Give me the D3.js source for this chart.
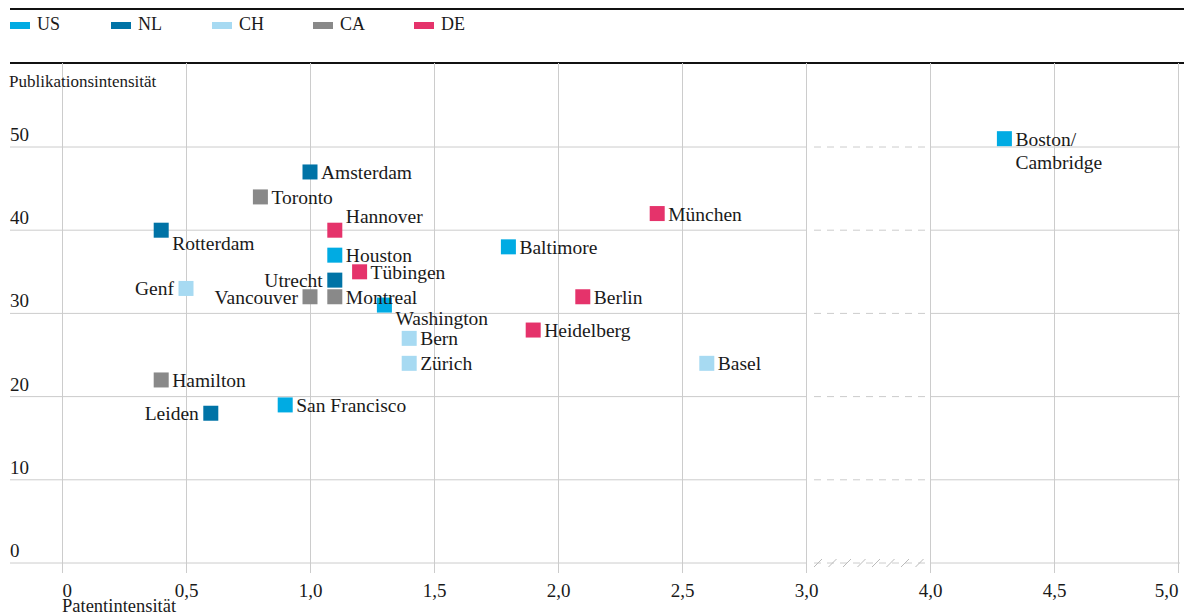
<!DOCTYPE html>
<meta charset="utf-8">
<script src="https://d3js.org/d3.v7.min.js"></script>
<style>
  body { margin: 0; background: #fff; }
  text { font-family: "Liberation Serif", "Times New Roman", serif; fill: #1a1a1a; }
</style>
<div id="my_dataviz"></div>
<script>

// data
const countries = ["US", "NL", "CH", "CA", "DE"];
const countryColors = ["#00abe3", "#0073a6", "#a7daf2", "#898989", "#e5336b"];

const cities = ["Boston/Cambridge", "Amsterdam", "Toronto", "Rotterdam", "Hannover", "Houston",
  "Utrecht", "Tübingen", "Genf", "Vancouver", "Montreal", "Washington", "Bern", "Zürich",
  "Hamilton", "Leiden", "San Francisco", "Baltimore", "München", "Berlin", "Heidelberg", "Basel"];
const cityCountry = ["US", "NL", "CA", "NL", "DE", "US",
  "NL", "DE", "CH", "CA", "CA", "US", "CH", "CH",
  "CA", "NL", "US", "US", "DE", "DE", "DE", "CH"];
const patentIntensity = [4.3, 1.0, 0.8, 0.4, 1.1, 1.1,
  1.1, 1.2, 0.5, 1.0, 1.1, 1.3, 1.4, 1.4,
  0.4, 0.6, 0.9, 1.8, 2.4, 2.1, 1.9, 2.6];
const publicationIntensity = [51, 47, 44, 40, 40, 37,
  34, 35, 33, 32, 32, 31, 27, 24,
  22, 18, 19, 38, 42, 32, 28, 24];

const xTicks = [0, 0.5, 1.0, 1.5, 2.0, 2.5, 3.0, 4.0, 4.5, 5.0];
const yTicks = [0, 10, 20, 30, 40, 50];

// where the label sits relative to its marker
const labelSide = {
  "Rotterdam": "below", "Washington": "below", "Hannover": "above",
  "Utrecht": "left", "Genf": "left", "Vancouver": "left", "Leiden": "left"
};

const W = 1184, H = 616;
const svg = d3.select("#my_dataviz")
  .append("svg")
  .attr("width", W)
  .attr("height", H);

// broken x axis: 3 -> 4 squeezed into half a unit
const x = d3.scaleLinear()
  .domain([0, 3, 4, 5])
  .range([62, 806, 930, 1178]);
const y = d3.scaleLinear()
  .domain([0, 50])
  .range([563, 147]);
const color = d3.scaleOrdinal().domain(countries).range(countryColors);

const fmt = (v) => v === 0 ? "0" : d3.format(".1f")(v).replace(".", ",");

// rules top
svg.append("line").attr("x1", 10).attr("x2", W).attr("y1", 9).attr("y2", 9)
  .attr("stroke", "#111").attr("stroke-width", 2);
svg.append("line").attr("x1", 10).attr("x2", W).attr("y1", 63).attr("y2", 63)
  .attr("stroke", "#111").attr("stroke-width", 2);

// legend
const legend = svg.selectAll("g.leg")
  .data(countries)
  .enter()
  .append("g")
  .attr("transform", (d, i) => `translate(${10 + i * 101},0)`);
legend.append("rect")
  .attr("x", 0).attr("y", 22).attr("width", 20).attr("height", 7)
  .attr("fill", (d) => color(d));
legend.append("text")
  .attr("x", 27).attr("y", 30)
  .style("font-size", "18px")
  .text((d) => d);

// x axis with vertical grid lines
const xAxis = svg.append("g")
  .attr("transform", "translate(0,573)")
  .call(d3.axisBottom(x)
    .tickValues(xTicks)
    .tickFormat(fmt)
    .tickSize(-510)
    .tickPadding(11));
xAxis.select(".domain").remove();
xAxis.selectAll(".tick line").attr("stroke", "#cccccc");
xAxis.selectAll(".tick text")
  .attr("fill", "#1a1a1a")
  .attr("text-anchor", (d, i) => i === 0 ? "start" : (i === xTicks.length - 1 ? "end" : "middle"))
  .style("font-family", "'Liberation Serif', 'Times New Roman', serif")
  .style("font-size", "19px");

// horizontal grid lines, dashed across the break
const grid = svg.append("g");
yTicks.forEach((v) => {
  grid.append("line").attr("x1", 10).attr("x2", x(3))
    .attr("y1", y(v)).attr("y2", y(v)).attr("stroke", "#cccccc");
  grid.append("line").attr("x1", x(4)).attr("x2", 1180)
    .attr("y1", y(v)).attr("y2", y(v)).attr("stroke", "#cccccc");
  grid.append("line").attr("x1", x(3) + 8).attr("x2", x(4) - 4)
    .attr("y1", y(v)).attr("y2", y(v))
    .attr("stroke", "#cccccc").attr("stroke-dasharray", "7,6");
});
// break marks on the baseline
const slashes = d3.range(x(3) + 12, x(4) - 4, 14.5);
grid.selectAll("path.brk")
  .data(slashes)
  .enter()
  .append("path")
  .attr("d", (d) => `M${d - 4},${y(0) + 4}L${d + 4},${y(0) - 4}`)
  .attr("stroke", "#bbbbbb").attr("stroke-width", 1);

// y tick labels
svg.selectAll("text.ytick")
  .data(yTicks)
  .enter()
  .append("text")
  .attr("x", 10)
  .attr("y", (d) => y(d) - 6)
  .style("font-size", "19px")
  .text((d) => d);

// axis titles
svg.append("text").attr("x", 9).attr("y", 87)
  .style("font-size", "17px").text("Publikationsintensität");
svg.append("text").attr("x", 62).attr("y", 612)
  .style("font-size", "18.5px").text("Patentintensität");

// points
const points = cities.map((c, i) => ({
  city: c, country: cityCountry[i], px: patentIntensity[i], py: publicationIntensity[i]
}));
const s = 15;
svg.selectAll("rect.pt")
  .data(points)
  .enter()
  .append("rect")
  .attr("x", (d) => x(d.px) - s / 2)
  .attr("y", (d) => y(d.py) - s / 2)
  .attr("width", s)
  .attr("height", s)
  .attr("fill", (d) => color(d.country));

// labels
const labels = svg.selectAll("text.lab")
  .data(points)
  .enter()
  .append("text")
  .attr("transform", (d) => `translate(${x(d.px)},${y(d.py)})`)
  .style("font-size", "19.5px")
  .attr("x", (d) => labelSide[d.city] === "left" ? -12 : 11)
  .attr("y", (d) => {
    const side = labelSide[d.city];
    if (side === "below") return 20;
    if (side === "above") return -7;
    return 7;
  })
  .attr("text-anchor", (d) => labelSide[d.city] === "left" ? "end" : "start");

labels.each(function (d) {
  const t = d3.select(this);
  if (d.city === "Boston/Cambridge") {
    t.append("tspan").text("Boston/");
    t.append("tspan").attr("x", 11).attr("dy", 23).text("Cambridge");
  } else {
    t.text(d.city);
  }
});

</script>
